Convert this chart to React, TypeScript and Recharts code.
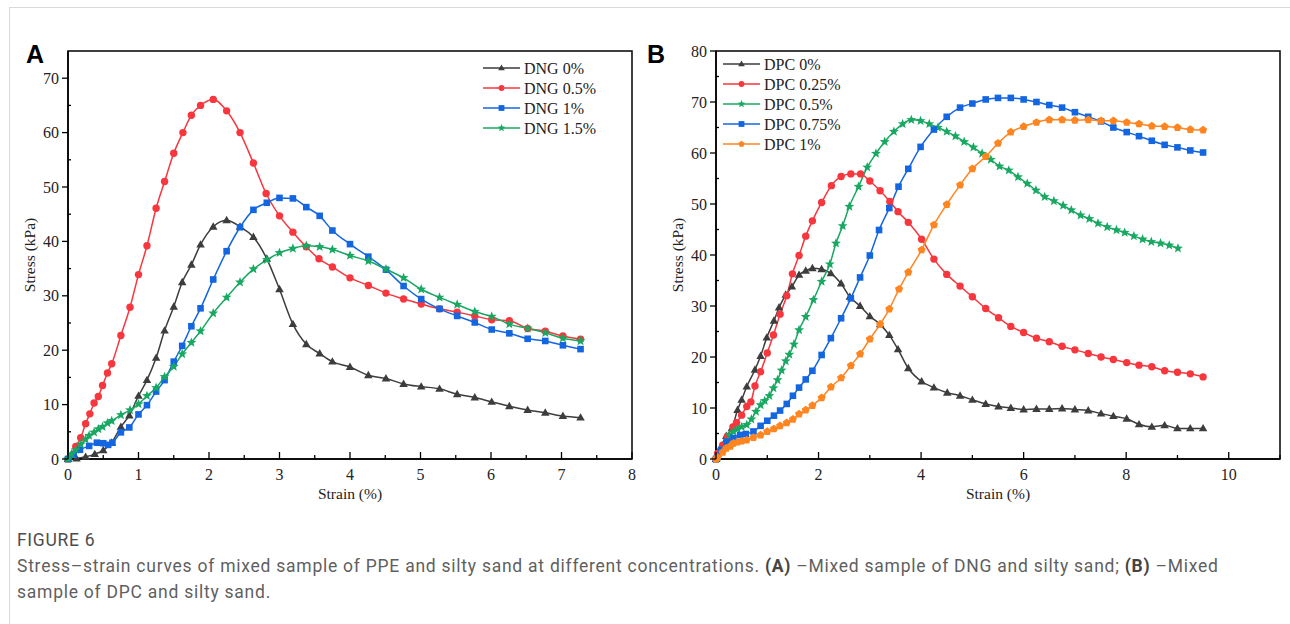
import { ReactElement } from 'react'
import { LineChart, Line, XAxis, YAxis, Legend, ReferenceArea } from 'recharts'

// ---------- data: panel A (DNG) ----------
const dng0Strain = [0, 0.12, 0.25, 0.38, 0.5, 0.62, 0.75, 0.87, 1.0, 1.12, 1.25, 1.37, 1.5, 1.62, 1.75, 1.88, 2.06, 2.25, 2.44, 2.63, 2.82, 3.0, 3.19, 3.38, 3.57, 3.75, 4.0, 4.26, 4.51, 4.76, 5.01, 5.27, 5.52, 5.77, 6.01, 6.26, 6.52, 6.77, 7.02, 7.27]
const dng0Stress = [0, 0.1, 0.4, 0.9, 1.6, 3.0, 5.9, 8.0, 11.6, 14.5, 18.6, 23.6, 28.0, 32.5, 35.7, 39.4, 42.7, 43.9, 42.7, 40.8, 36.8, 31.2, 24.8, 21.1, 19.4, 17.9, 16.9, 15.4, 14.8, 13.8, 13.3, 12.9, 11.9, 11.3, 10.5, 9.7, 9.0, 8.5, 7.9, 7.6]

const dng05Strain = [0, 0.11, 0.18, 0.25, 0.31, 0.37, 0.43, 0.49, 0.56, 0.62, 0.75, 0.88, 1.0, 1.12, 1.25, 1.37, 1.5, 1.63, 1.75, 1.88, 2.06, 2.25, 2.44, 2.63, 2.81, 3.0, 3.19, 3.38, 3.56, 3.75, 4.0, 4.26, 4.51, 4.76, 5.01, 5.27, 5.52, 5.77, 6.01, 6.26, 6.52, 6.77, 7.02, 7.27]
const dng05Stress = [0, 2.3, 3.9, 6.5, 8.3, 10.3, 11.5, 13.5, 15.8, 17.5, 22.7, 27.9, 33.9, 39.2, 46.1, 51.0, 56.2, 60.0, 63.2, 65.0, 66.1, 64.0, 60.0, 54.4, 48.8, 44.7, 41.7, 39.0, 36.8, 35.3, 33.3, 31.9, 30.5, 29.4, 28.5, 27.6, 27.0, 26.3, 25.6, 25.4, 24.0, 23.5, 22.6, 22.0]

const dng1Strain = [0, 0.08, 0.17, 0.3, 0.41, 0.5, 0.57, 0.63, 0.75, 0.87, 1.0, 1.12, 1.25, 1.37, 1.5, 1.62, 1.75, 1.88, 2.06, 2.25, 2.44, 2.63, 2.82, 3.0, 3.19, 3.38, 3.57, 3.75, 4.0, 4.26, 4.51, 4.76, 5.01, 5.27, 5.52, 5.77, 6.01, 6.26, 6.52, 6.77, 7.02, 7.27]
const dng1Stress = [0, 0.8, 1.7, 2.4, 3.0, 2.9, 2.6, 3.0, 4.9, 5.8, 8.2, 9.9, 12.4, 14.5, 17.9, 20.8, 24.4, 27.7, 33.0, 38.2, 42.6, 45.8, 47.1, 48.0, 47.9, 46.3, 44.7, 42.0, 39.5, 37.2, 34.8, 31.8, 29.4, 27.6, 26.3, 25.1, 23.8, 23.1, 22.1, 21.7, 20.9, 20.2]

const dng15Strain = [0, 0.05, 0.11, 0.18, 0.25, 0.3, 0.37, 0.43, 0.49, 0.56, 0.62, 0.75, 0.88, 1.0, 1.12, 1.25, 1.37, 1.5, 1.62, 1.75, 1.88, 2.06, 2.25, 2.44, 2.63, 2.82, 3.0, 3.19, 3.38, 3.57, 3.75, 4.0, 4.26, 4.51, 4.76, 5.01, 5.27, 5.52, 5.77, 6.01, 6.26, 6.52, 6.77, 7.02, 7.27]
const dng15Stress = [0, 0.9, 1.7, 2.7, 3.6, 4.3, 4.9, 5.5, 5.9, 6.6, 7.0, 8.1, 9.0, 10.1, 11.6, 13.1, 15.1, 17.0, 19.3, 21.4, 23.5, 26.8, 29.7, 32.5, 34.9, 36.6, 37.9, 38.7, 39.2, 39.0, 38.5, 37.4, 36.4, 34.9, 33.3, 31.2, 29.7, 28.4, 27.1, 26.2, 24.8, 24.0, 23.2, 22.2, 21.7]

// ---------- data: panel B (DPC) ----------
const dpc0Strain = [0, 0.1, 0.2, 0.31, 0.42, 0.5, 0.6, 0.76, 0.87, 0.99, 1.13, 1.23, 1.36, 1.48, 1.62, 1.75, 1.88, 2.06, 2.24, 2.44, 2.61, 2.81, 3.0, 3.2, 3.38, 3.55, 3.75, 4.01, 4.25, 4.51, 4.76, 5.0, 5.26, 5.51, 5.75, 6.0, 6.25, 6.5, 6.75, 7.0, 7.26, 7.51, 7.75, 8.01, 8.25, 8.5, 8.75, 9.0, 9.25, 9.5]
const dpc0Stress = [0, 2.4, 4.5, 6.0, 9.6, 11.6, 14.2, 17.5, 20.2, 23.8, 27.1, 29.7, 32.2, 33.8, 36.1, 36.9, 37.4, 37.2, 36.4, 34.4, 31.8, 30.0, 28.0, 26.4, 24.3, 21.5, 17.8, 15.2, 14.0, 13.0, 12.4, 11.6, 10.8, 10.3, 10.0, 9.7, 9.8, 9.8, 9.9, 9.7, 9.5, 8.9, 8.4, 7.9, 6.8, 6.3, 6.6, 6.0, 6.0, 6.0]

const dpc025Strain = [0, 0.03, 0.13, 0.22, 0.33, 0.4, 0.5, 0.6, 0.68, 0.76, 0.87, 1.0, 1.12, 1.25, 1.38, 1.49, 1.62, 1.75, 1.88, 2.06, 2.25, 2.44, 2.63, 2.82, 3.0, 3.2, 3.39, 3.55, 3.75, 4.01, 4.25, 4.5, 4.76, 5.0, 5.26, 5.51, 5.75, 6.0, 6.25, 6.5, 6.75, 7.0, 7.26, 7.51, 7.75, 8.01, 8.25, 8.5, 8.75, 9.0, 9.25, 9.5]
const dpc025Stress = [0, 1.1, 2.7, 4.4, 6.3, 7.1, 8.6, 10.3, 11.2, 14.3, 17.1, 20.8, 24.3, 28.4, 32.0, 36.3, 39.9, 43.7, 46.7, 50.3, 53.6, 55.4, 55.9, 55.9, 54.5, 52.6, 50.5, 48.5, 46.4, 43.1, 39.2, 36.2, 33.9, 31.8, 29.5, 27.7, 26.0, 24.8, 23.7, 23.0, 22.1, 21.4, 20.7, 20.0, 19.5, 18.9, 18.4, 18.1, 17.3, 17.0, 16.7, 16.1]

const dpc05Strain = [0, 0.03, 0.11, 0.2, 0.26, 0.34, 0.42, 0.5, 0.6, 0.69, 0.78, 0.87, 0.95, 1.04, 1.12, 1.2, 1.28, 1.36, 1.43, 1.52, 1.62, 1.75, 1.9, 2.06, 2.22, 2.34, 2.47, 2.6, 2.78, 2.95, 3.12, 3.29, 3.47, 3.64, 3.81, 3.99, 4.16, 4.33, 4.5, 4.67, 4.84, 5.02, 5.19, 5.36, 5.53, 5.71, 5.89, 6.07, 6.24, 6.41, 6.59, 6.77, 6.93, 7.11, 7.28, 7.45, 7.63, 7.81, 7.97, 8.15, 8.32, 8.49, 8.67, 8.84, 9.01]
const dpc05Stress = [0, 0.3, 1.8, 3.2, 4.7, 5.4, 5.9, 6.3, 6.7, 7.8, 9.3, 10.6, 11.4, 12.4, 13.9, 15.5, 17.4, 19.2, 20.5, 22.5, 25.3, 27.9, 31.2, 34.8, 38.2, 42.3, 45.7, 49.5, 53.4, 57.2, 59.9, 62.2, 64.2, 65.7, 66.5, 66.3, 65.7, 65.0, 64.2, 63.3, 62.2, 61.1, 59.9, 58.7, 57.4, 56.6, 55.3, 54.0, 52.7, 51.4, 50.6, 49.7, 48.8, 47.8, 47.1, 46.2, 45.5, 44.9, 44.4, 43.7, 43.1, 42.6, 42.3, 41.9, 41.3]

const dpc075Strain = [0, 0.03, 0.1, 0.21, 0.34, 0.47, 0.58, 0.73, 0.87, 1.0, 1.13, 1.25, 1.38, 1.5, 1.62, 1.75, 1.88, 2.06, 2.24, 2.44, 2.63, 2.81, 3.0, 3.18, 3.38, 3.56, 3.75, 3.99, 4.25, 4.5, 4.76, 5.0, 5.26, 5.5, 5.75, 6.0, 6.25, 6.5, 6.75, 7.0, 7.26, 7.51, 7.75, 8.01, 8.25, 8.5, 8.75, 9.0, 9.25, 9.5]
const dpc075Stress = [0, 0.4, 1.8, 3.4, 4.1, 4.7, 4.9, 5.4, 6.5, 7.5, 8.5, 9.5, 10.8, 12.4, 14.0, 15.6, 17.3, 20.4, 23.7, 27.6, 31.5, 35.6, 39.9, 44.9, 49.2, 53.4, 56.9, 61.2, 64.6, 67.1, 68.9, 69.7, 70.5, 70.8, 70.8, 70.5, 70.0, 69.4, 68.9, 68.0, 67.1, 66.2, 65.0, 64.1, 63.3, 62.4, 61.6, 61.1, 60.5, 60.1]

const dpc1Strain = [0, 0.03, 0.13, 0.2, 0.28, 0.34, 0.42, 0.5, 0.6, 0.73, 0.87, 1.0, 1.13, 1.25, 1.38, 1.5, 1.62, 1.75, 1.88, 2.06, 2.24, 2.44, 2.63, 2.81, 3.0, 3.2, 3.38, 3.57, 3.75, 4.01, 4.25, 4.5, 4.76, 5.0, 5.26, 5.5, 5.75, 6.0, 6.25, 6.5, 6.75, 7.0, 7.26, 7.51, 7.75, 8.01, 8.25, 8.5, 8.75, 9.0, 9.25, 9.5]
const dpc1Stress = [0, 0.3, 1.3, 2.1, 2.5, 3.1, 3.3, 3.5, 3.7, 4.2, 4.7, 5.4, 5.9, 6.5, 7.1, 7.8, 8.8, 9.6, 10.5, 12.0, 14.1, 15.9, 18.3, 20.6, 23.5, 26.4, 29.4, 33.3, 36.6, 41.0, 45.9, 49.9, 53.7, 56.9, 59.3, 61.9, 64.1, 65.2, 66.0, 66.5, 66.5, 66.4, 66.5, 66.3, 66.3, 66.0, 65.7, 65.3, 65.2, 65.0, 64.6, 64.5]

const ticksA = { x: [0, 0.5, 1, 1.5, 2, 2.5, 3, 3.5, 4, 4.5, 5, 5.5, 6, 6.5, 7, 7.5, 8], y: [0, 5, 10, 15, 20, 25, 30, 35, 40, 45, 50, 55, 60, 65, 70] }
const ticksB = { x: [0, 1, 2, 3, 4, 5, 6, 7, 8, 9, 10, 11], y: [0, 5, 10, 15, 20, 25, 30, 35, 40, 45, 50, 55, 60, 65, 70, 75, 80] }

const serif = '"Liberation Serif", "Times New Roman", serif'
const captionFont = 'Roboto, "Noto Sans", sans-serif'
const cBlack = '#3d3d3d'
const cRed = '#f7363d'
const cBlue = '#1466e0'
const cGreen = '#18a862'
const cOrange = '#ff8520'

type Shape = 'triangle' | 'circle' | 'square' | 'star' | 'pentagon'

type Series = { name: string, strain: number[], stress: number[], color: string, shape: Shape }

const seriesA: Series[] = [
   { name: 'DNG 0%', strain: dng0Strain, stress: dng0Stress, color: cBlack, shape: 'triangle' },
   { name: 'DNG 0.5%', strain: dng05Strain, stress: dng05Stress, color: cRed, shape: 'circle' },
   { name: 'DNG 1%', strain: dng1Strain, stress: dng1Stress, color: cBlue, shape: 'square' },
   { name: 'DNG 1.5%', strain: dng15Strain, stress: dng15Stress, color: cGreen, shape: 'star' }
]

const seriesB: Series[] = [
   { name: 'DPC 0%', strain: dpc0Strain, stress: dpc0Stress, color: cBlack, shape: 'triangle' },
   { name: 'DPC 0.25%', strain: dpc025Strain, stress: dpc025Stress, color: cRed, shape: 'circle' },
   { name: 'DPC 0.5%', strain: dpc05Strain, stress: dpc05Stress, color: cGreen, shape: 'star' },
   { name: 'DPC 0.75%', strain: dpc075Strain, stress: dpc075Stress, color: cBlue, shape: 'square' },
   { name: 'DPC 1%', strain: dpc1Strain, stress: dpc1Stress, color: cOrange, shape: 'pentagon' }
]

const toRows = (s: Series) => s.strain.map((x, i) => ({ x, y: s.stress[i] }))

const polygon = (cx: number, cy: number, r: number, n: number, inner?: number) => {
   const pts: string[] = []
   const count = inner ? n * 2 : n
   for (let i = 0; i < count; i++) {
      const rr = inner && i % 2 === 1 ? inner : r
      const a = -Math.PI / 2 + (i * Math.PI * 2) / count
      pts.push(`${cx + rr * Math.cos(a)},${cy + rr * Math.sin(a)}`)
   }
   return pts.join(' ')
}

const Marker = ({ shape, cx, cy, fill, s }: { shape: Shape, cx: number, cy: number, fill: string, s: number }): ReactElement | null => {
   if (cx == null || cy == null) return null
   switch (shape) {
      case 'circle':
         return <circle cx={ cx } cy={ cy } r={ s } fill={ fill } />
      case 'square':
         return <rect x={ cx - s } y={ cy - s } width={ s * 2 } height={ s * 2 } fill={ fill } />
      case 'triangle':
         return <polygon points={ `${cx},${cy - s * 1.2} ${cx - s * 1.15},${cy + s * 0.8} ${cx + s * 1.15},${cy + s * 0.8}` } fill={ fill } />
      case 'star':
         return <polygon points={ polygon(cx, cy, s * 1.4, 5, s * 0.6) } fill={ fill } />
      default:
         return <polygon points={ polygon(cx, cy, s * 1.15, 5) } fill={ fill } />
   }
}

const markerSize = (shape: Shape) => (shape === 'square' ? 3.3 : 3.7)

const makeXTick = (isMajor: (v: number) => boolean) => (props: any) => {
   const { x, y, payload } = props
   const major = isMajor(payload.value)
   return (
      <g>
         <line x1={ x } x2={ x } y1={ y } y2={ y - (major ? 7 : 4) } stroke='#000' strokeWidth={ 1.3 } />
         { major && <text x={ x } y={ y + 21 } textAnchor='middle' fontSize={ 16 } fontFamily={ serif } fill='#222'>{ payload.value }</text> }
      </g>
   )
}

const makeYTick = (isMajor: (v: number) => boolean) => (props: any) => {
   const { x, y, payload } = props
   const major = isMajor(payload.value)
   return (
      <g>
         <line x1={ x } x2={ major ? x - 6 : x + 3 } y1={ y } y2={ y } stroke='#000' strokeWidth={ 1.3 } />
         { major && <text x={ x - 9 } y={ y + 5.5 } textAnchor='end' fontSize={ 16 } fontFamily={ serif } fill='#222'>{ payload.value }</text> }
      </g>
   )
}

const yTitle = (props: any) => {
   const vb = props.viewBox
   const cx = vb.x + 21
   const cy = vb.y + vb.height / 2
   return (
      <text x={ cx } y={ cy } transform={ `rotate(-90 ${cx} ${cy})` } textAnchor='middle' dominantBaseline='central' fontSize={ 15.5 } fontFamily={ serif } fill='#222'>
         Stress (kPa)
      </text>
   )
}

const xTitle = (props: any) => {
   const vb = props.viewBox
   return (
      <text x={ vb.x + vb.width / 2 } y={ vb.y + 40 } textAnchor='middle' fontSize={ 15.5 } fontFamily={ serif } fill='#222'>
         Strain (%)
      </text>
   )
}

const LegendBox = ({ items }: { items: Series[] }) => (
   <svg width={ 150 } height={ items.length * 20 + 4 } style={{ display: 'block' }}>
      { items.map((it, i) => {
         const y = 10 + i * 20
         return (
            <g key={ it.name }>
               <line x1={ 0 } x2={ 37 } y1={ y } y2={ y } stroke={ it.color } strokeWidth={ 1.5 } />
               <Marker shape={ it.shape } cx={ 18.5 } cy={ y } fill={ it.color } s={ 2.9 } />
               <text x={ 41 } y={ y + 5.5 } fontSize={ 16 } fontFamily={ serif } fill='#222'>{ it.name }</text>
            </g>
         )
      }) }
   </svg>
)

type PanelProps = {
   w: number
   h: number
   marginLeft: number
   marginRight: number
   series: Series[]
   xMax: number
   yMax: number
   ticks: { x: number[], y: number[] }
   xMajor: (v: number) => boolean
   legendLeft: number
   legendTop: number
}

const Panel = ({ w, h, marginLeft, marginRight, series, xMax, yMax, ticks, xMajor, legendLeft, legendTop }: PanelProps): ReactElement => (
   <LineChart width={ w } height={ h } margin={{ top: 51, right: marginRight, left: marginLeft, bottom: 0 }}>
      <XAxis
         dataKey='x'
         type='number'
         domain={ [0, xMax] }
         ticks={ ticks.x }
         interval={ 0 }
         height={ 46 }
         tickSize={ 0 }
         tickMargin={ 0 }
         tickLine={ false }
         axisLine={{ stroke: '#000', strokeWidth: 1.5 }}
         tick={ makeXTick(xMajor) }
         label={ xTitle }
      />
      <YAxis
         type='number'
         domain={ [0, yMax] }
         ticks={ ticks.y }
         interval={ 0 }
         width={ 60 }
         tickSize={ 0 }
         tickMargin={ 0 }
         tickLine={ false }
         axisLine={{ stroke: '#000', strokeWidth: 1.5 }}
         tick={ makeYTick((v) => v % 10 === 0) }
         label={ yTitle }
      />
      <ReferenceArea x1={ 0 } x2={ xMax } y1={ 0 } y2={ yMax } fill='none' stroke='#000' strokeWidth={ 1.5 } />
      { series.map((s) => (
         <Line
            key={ s.name }
            name={ s.name }
            data={ toRows(s) }
            dataKey='y'
            type='monotone'
            stroke={ s.color }
            strokeWidth={ 1.5 }
            isAnimationActive={ false }
            activeDot={ false }
            dot={ (p: any) => <Marker key={ `${s.name}-${p.index}` } shape={ s.shape } cx={ p.cx } cy={ p.cy } fill={ s.color } s={ markerSize(s.shape) } /> }
         />
      )) }
      <Legend
         layout='vertical'
         align='center'
         verticalAlign='middle'
         wrapperStyle={{ left: legendLeft, top: legendTop, width: 150 }}
         content={ () => <LegendBox items={ series } /> }
      />
   </LineChart>
)

export default function App (): ReactElement {
   return (
      <div style={{ position: 'absolute', left: 0, top: 0, width: 1290, height: 624, background: '#fff', overflow: 'hidden' }}>
         <div style={{ position: 'absolute', left: 9, top: 7, width: 1300, height: 700, borderLeft: '1px solid #d9d9d9', borderTop: '1px solid #d9d9d9' }} />

         <div style={{ position: 'absolute', left: 0, top: 0 }}>
            <Panel w={ 640 } h={ 505 } marginLeft={ 8 } marginRight={ 8 } series={ seriesA } xMax={ 8 } yMax={ 75 } ticks={ ticksA } xMajor={ (v) => Number.isInteger(v) } legendLeft={ 483 } legendTop={ 58 } />
         </div>
         <div style={{ position: 'absolute', left: 640, top: 0 }}>
            <Panel w={ 650 } h={ 505 } marginLeft={ 16 } marginRight={ 10 } series={ seriesB } xMax={ 11 } yMax={ 80 } ticks={ ticksB } xMajor={ (v) => v % 2 === 0 } legendLeft={ 83 } legendTop={ 54 } />
         </div>

         <div style={{ position: 'absolute', left: 26, top: 40, fontFamily: '"Liberation Sans", Arial, sans-serif', fontWeight: 700, fontSize: 25, lineHeight: '28px', color: '#000' }}>A</div>
         <div style={{ position: 'absolute', left: 647, top: 40, fontFamily: '"Liberation Sans", Arial, sans-serif', fontWeight: 700, fontSize: 25, lineHeight: '28px', color: '#000' }}>B</div>

         <div style={{ position: 'absolute', left: 17, top: 529, fontFamily: captionFont, fontSize: 17.5, letterSpacing: '0.7px', lineHeight: '22px', color: '#4d4d4d', whiteSpace: 'nowrap' }}>
            FIGURE 6
         </div>
         <div style={{ position: 'absolute', left: 17, top: 553, fontFamily: captionFont, fontSize: 17.5, letterSpacing: '0.75px', lineHeight: '26px', color: '#5f5f5f', whiteSpace: 'nowrap' }}>
            Stress–strain curves of mixed sample of PPE and silty sand at different concentrations. <b style={{ color: '#444' }}>(A)</b> –Mixed sample of DNG and silty sand; <b style={{ color: '#444' }}>(B)</b> –Mixed<br />
            sample of DPC and silty sand.
         </div>
      </div>
   )
}
